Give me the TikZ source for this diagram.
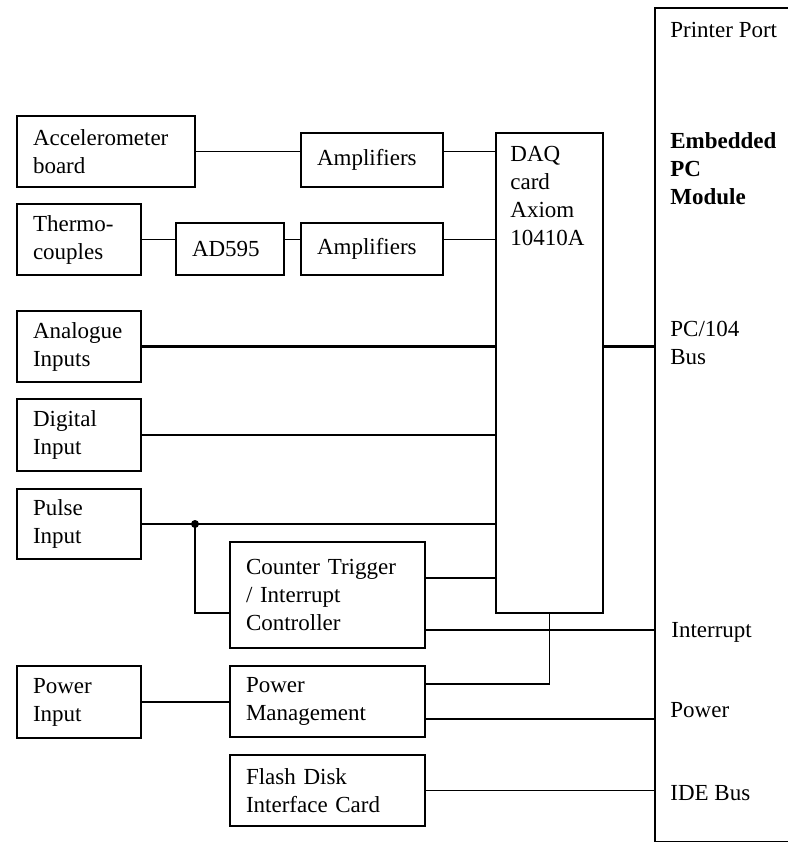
\documentclass[tikz,border=0pt]{standalone}
\usepackage{fontspec}
\setmainfont{Liberation Serif}

\newcommand{\dfont}{\fontsize{11.5pt}{14pt}\selectfont}

\begin{document}
\begin{tikzpicture}[
						x=0.5pt, y=-0.5pt,
						every node/.style={font=\dfont},
						box/.style={draw, line width=1pt, anchor=north west, align=left, inner xsep=8pt, inner ysep=0pt},
						wire/.style={line width=0.8pt},
						port/.style={anchor=base west, inner sep=0pt}
				]
    \useasboundingbox (0,0) rectangle (788,842);

    % Input blocks
    \node[box, text width=73pt, minimum height=35.5pt] (acc) at (16,115) {Accelerometer\\board};
    \node[box, text width=55pt, minimum height=27pt] (amp1) at (300,132) {Amplifiers};
    \node[box, text width=46pt, minimum height=35.5pt] (thermo) at (16,203) {Thermo-\\couples};
    \node[box, text width=38pt, minimum height=26pt] (ad) at (175,222) {AD595};
    \node[box, text width=55pt, minimum height=26pt] (amp2) at (300,222) {Amplifiers};
    \node[box, text width=46pt, minimum height=35.5pt] (ana) at (16,310) {Analogue\\Inputs};
    \node[box, text width=46pt, minimum height=36pt] (dig) at (16,398) {Digital\\Input};
    \node[box, text width=46pt, minimum height=35pt] (pulse) at (16,488) {Pulse\\Input};
    \node[box, text width=81.5pt, minimum height=53pt] (ctr) at (229,541) {Counter Trigger\\/ Interrupt\\Controller};
    \node[box, text width=46pt, minimum height=36pt] (pin) at (16,665) {Power\\Input};
    \node[box, text width=81.5pt, minimum height=35.5pt] (pm) at (229,665) {Power\\Management};
    \node[box, text width=81.5pt, minimum height=35.5pt] (flash) at (229,754) {Flash Disk\\Interface Card};

    % DAQ card
    \node[box, inner sep=0pt, minimum width=53.5pt, minimum height=240pt,
          label={[name=daqtxt, anchor=north west, align=left, inner sep=0pt, xshift=7.5pt, yshift=-7pt]north west:DAQ\\card\\Axiom\\10410A}] (daq) at (495,132) {};

    % Embedded PC module (runs off the right edge)
    \node[box, inner sep=0pt, minimum width=73pt, minimum height=417pt] (pc) at (654,7) {};
    \node[port] (lpt) at (670,37) {Printer Port};
    \node[anchor=north west, align=left, inner sep=0pt, font=\dfont\bfseries] (epc) at (670,132) {Embedded\\PC\\Module};
    \node[anchor=north west, align=left, inner sep=0pt] (bus) at (670,321) {PC/104\\Bus};
    \node[port] (lint) at (671,637) {Interrupt};
    \node[port] (lpow) at (670,717) {Power};
    \node[port] (lide) at (670,800) {IDE Bus};

    % Signal paths
    \draw[wire] (acc.east) -- (acc.east -| amp1.west);
    \draw[wire] (acc.east -| amp1.east) -- (acc.east -| daq.west);
    \draw[wire] (thermo.east) -- (thermo.east -| ad.west);
    \draw[wire] (thermo.east -| ad.east) -- (thermo.east -| amp2.west);
    \draw[wire] (thermo.east -| amp2.east) -- (thermo.east -| daq.west);
    \draw[wire, line width=1.1pt] (ana.east) -- (ana.east -| daq.west);
    \draw[wire, line width=1.1pt] (ana.east -| daq.east) -- (ana.east -| pc.west);
    \draw[wire] (dig.east) -- (dig.east -| daq.west);

    % Pulse input splits to the counter
    \coordinate (jn) at ([xshift=26.5pt]pulse.east);
    \draw[wire] (pulse.east) -- (pulse.east -| daq.west);
    \draw[wire] (jn) |- ([yshift=-9pt]ctr.west);
    \fill (jn) circle (2pt);
    \draw[wire] ([yshift=8.5pt]ctr.east) -- ([yshift=8.5pt]ctr.east -| daq.west);
    \draw[wire] ([yshift=-17.5pt]ctr.east) -- ([yshift=-17.5pt]ctr.east -| pc.west);

    % Power
    \draw[wire] (pin.east) -- (pin.east -| pm.west);
    \draw[wire] (daq.south) |- ([yshift=8.75pt]pm.east);
    \draw[wire] ([yshift=-8.75pt]pm.east) -- ([yshift=-8.75pt]pm.east -| pc.west);
    \draw[wire] (flash.east) -- (flash.east -| pc.west);

  \end{tikzpicture}
\end{document}
